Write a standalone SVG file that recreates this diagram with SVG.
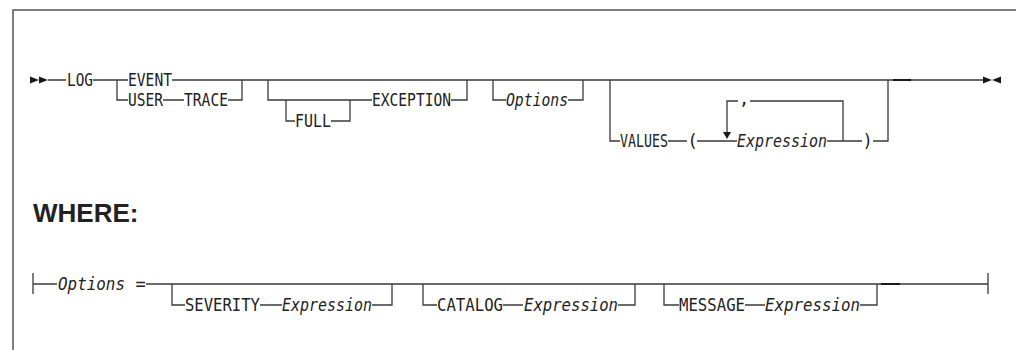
<svg xmlns="http://www.w3.org/2000/svg" width="1016" height="350" viewBox="0 0 1016 350">
<style>
.frame{fill:none;stroke:#555;stroke-width:1.5}
.ln{fill:none;stroke:#3a3a3a;stroke-width:1.3}
.thick{fill:none;stroke:#1a1a1a;stroke-width:2}
.t{font-family:"DejaVu Sans Mono","Liberation Mono",monospace;font-size:17px;fill:#222}
.i{font-style:italic}
.h{font-family:"Liberation Sans",Arial,sans-serif;font-size:26px;font-weight:bold;fill:#222}
.mk{fill:#1a1a1a}
</style>
<rect width="1016" height="350" fill="#fff"/>
<path class="frame" d="M13,350 V10 H1016"/>

<g id="connectors">
  <!-- main row -->
  <path class="ln" d="M48,80 H66 M93,80 H128 M172,80 H983"/>
  <path class="thick" d="M893,80 H911"/>
  <!-- EVENT / USER TRACE -->
  <path class="ln" d="M117,80 V100 H128 M163,100 H184 M228,100 H242 V80"/>
  <!-- FULL / EXCEPTION -->
  <path class="ln" d="M268,80 V100 H372 M451,100 H467 V80"/>
  <path class="ln" d="M286,100 V121 H295 M331,121 H350 V100"/>
  <!-- Options -->
  <path class="ln" d="M493,80 V100 H506 M568,100 H583 V80"/>
  <!-- VALUES -->
  <path class="ln" d="M610,80 V141 H620 M668,141 H687 M697,141 H737 M827,141 H862 M873,141 H888 V80"/>
  <path class="ln" d="M727,133 V101 H738 M750,101 H843 V141"/>
  <!-- start / end markers -->
  <path class="mk" d="M30,76.5 L39,80 L30,83.5 Z M39,76.5 L48,80 L39,83.5 Z"/>
  <path class="mk" d="M983,76.5 L992,80 L983,83.5 Z M1001,76.5 L992,80 L1001,83.5 Z"/>
  <path class="mk" d="M723,132 L731,132 L727,139 Z"/>
  <!-- Options definition -->
  <path class="ln" d="M33,273 V294 M33,284 H57 M146,284 H988 M988,273 V294"/>
  <path class="thick" d="M881,284 H900"/>
  <path class="ln" d="M172,284 V305 H185 M260,305 H282 M372,305 H392 V284"/>
  <path class="ln" d="M423,284 V305 H437 M503,305 H523 M618,305 H635 V284"/>
  <path class="ln" d="M664,284 V305 H679 M745,305 H765 M860,305 H877 V284"/>
</g>

<g id="LOG"><text class="t" x="67" y="85.5" textLength="26" lengthAdjust="spacingAndGlyphs">LOG</text></g>
<g id="EVENT"><text class="t" x="128" y="85.5" textLength="44" lengthAdjust="spacingAndGlyphs">EVENT</text></g>
<g id="USER"><text class="t" x="128" y="105.5" textLength="35" lengthAdjust="spacingAndGlyphs">USER</text></g>
<g id="TRACE"><text class="t" x="184" y="105.5" textLength="44" lengthAdjust="spacingAndGlyphs">TRACE</text></g>
<g id="FULL"><text class="t" x="295" y="126.5" textLength="36" lengthAdjust="spacingAndGlyphs">FULL</text></g>
<g id="EXCEPTION"><text class="t" x="372" y="105.5" textLength="79" lengthAdjust="spacingAndGlyphs">EXCEPTION</text></g>
<g id="Options-ref"><text class="t i" x="506" y="105.5" textLength="62" lengthAdjust="spacingAndGlyphs">Options</text></g>
<g id="VALUES"><text class="t" x="620" y="146.5" textLength="48" lengthAdjust="spacingAndGlyphs">VALUES</text></g>
<g id="lparen"><text class="t" x="687.5" y="146.5">(</text></g>
<g id="comma"><text class="t" x="744" y="105" text-anchor="middle">,</text></g>
<g id="Expression-values"><text class="t i" x="737" y="146.5" textLength="90" lengthAdjust="spacingAndGlyphs">Expression</text></g>
<g id="rparen"><text class="t" x="862.5" y="146.5">)</text></g>

<g id="where"><text class="h" x="33" y="222">WHERE:</text></g>

<g id="Options-def"><text class="t i" x="58" y="289.5" textLength="67" lengthAdjust="spacingAndGlyphs">Options</text><text class="t" x="135.5" y="289.5">=</text></g>
<g id="SEVERITY"><text class="t" x="185" y="310.5" textLength="75" lengthAdjust="spacingAndGlyphs">SEVERITY</text><text class="t i" x="282" y="310.5" textLength="90" lengthAdjust="spacingAndGlyphs">Expression</text></g>
<g id="CATALOG"><text class="t" x="437" y="310.5" textLength="66" lengthAdjust="spacingAndGlyphs">CATALOG</text><text class="t i" x="524" y="310.5" textLength="94" lengthAdjust="spacingAndGlyphs">Expression</text></g>
<g id="MESSAGE"><text class="t" x="679" y="310.5" textLength="66" lengthAdjust="spacingAndGlyphs">MESSAGE</text><text class="t i" x="765" y="310.5" textLength="95" lengthAdjust="spacingAndGlyphs">Expression</text></g>
</svg>
